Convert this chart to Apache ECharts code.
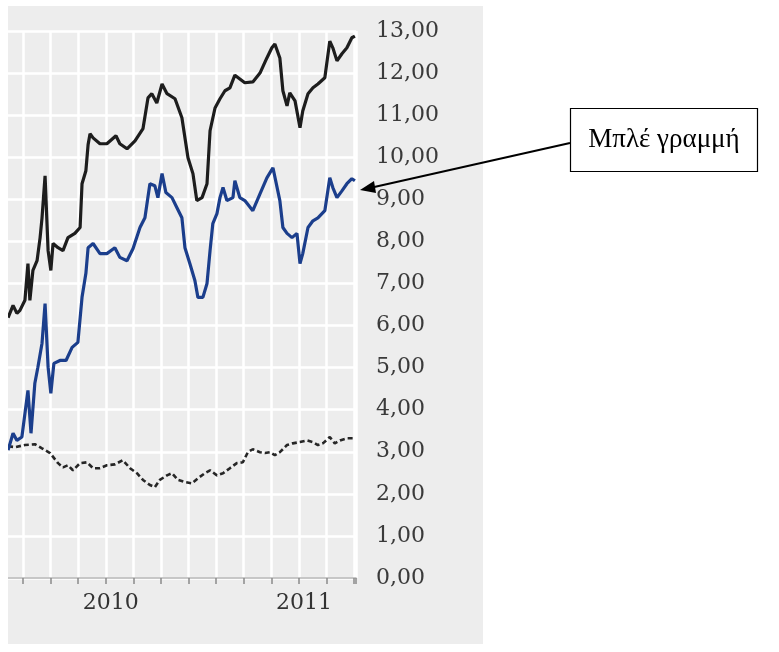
<!DOCTYPE html>
<html>
<head>
<meta charset="utf-8">
<script src="https://cdn.jsdelivr.net/npm/echarts@6/dist/echarts.min.js"></script>
<style>
  html, body { margin: 0; padding: 0; background: #fff; }
  #main { width: 779px; height: 652px; }
</style>
</head>
<body>
<div id="main"></div>
<script>
// x in months (1 = first gridline), y in the axis units
var blackMonths = [0.46, 0.64, 0.78, 0.89, 1.07, 1.18, 1.25, 1.36, 1.51, 1.62, 1.69, 1.80, 1.91, 2.01, 2.09, 2.27, 2.45, 2.63, 2.88, 3.07, 3.14, 3.28, 3.36, 3.43, 3.54, 3.79, 4.04, 4.37, 4.51, 4.77, 5.06, 5.35, 5.53, 5.67, 5.85, 6.04, 6.22, 6.51, 6.76, 6.98, 7.16, 7.30, 7.49, 7.67, 7.78, 7.96, 8.14, 8.32, 8.50, 8.68, 8.86, 9.04, 9.33, 9.59, 9.84, 10.02, 10.13, 10.31, 10.42, 10.57, 10.67, 10.86, 11.04, 11.14, 11.33, 11.51, 11.69, 11.94, 12.12, 12.23, 12.38, 12.56, 12.74, 12.92, 13.03];
var blackValues = [6.19, 6.48, 6.29, 6.36, 6.60, 7.47, 6.60, 7.31, 7.54, 8.09, 8.56, 9.56, 7.78, 7.31, 7.95, 7.85, 7.78, 8.09, 8.19, 8.33, 9.37, 9.68, 10.30, 10.56, 10.46, 10.32, 10.32, 10.51, 10.32, 10.20, 10.39, 10.68, 11.41, 11.51, 11.29, 11.74, 11.51, 11.39, 10.94, 9.99, 9.61, 8.97, 9.04, 9.37, 10.63, 11.17, 11.39, 11.58, 11.65, 11.95, 11.86, 11.77, 11.79, 12.00, 12.36, 12.60, 12.69, 12.36, 11.58, 11.22, 11.53, 11.34, 10.70, 11.10, 11.51, 11.65, 11.74, 11.89, 12.76, 12.60, 12.29, 12.46, 12.60, 12.84, 12.88];

var blueMonths = [0.46, 0.64, 0.78, 0.96, 1.18, 1.29, 1.43, 1.54, 1.69, 1.80, 1.91, 2.01, 2.12, 2.34, 2.56, 2.78, 2.99, 3.14, 3.28, 3.36, 3.54, 3.79, 4.04, 4.33, 4.51, 4.77, 4.99, 5.24, 5.42, 5.60, 5.78, 5.89, 6.04, 6.18, 6.40, 6.58, 6.76, 6.87, 7.05, 7.23, 7.34, 7.52, 7.67, 7.78, 7.88, 8.03, 8.14, 8.25, 8.39, 8.61, 8.68, 8.86, 9.04, 9.33, 9.59, 9.84, 10.06, 10.13, 10.31, 10.42, 10.57, 10.75, 10.93, 11.04, 11.14, 11.33, 11.51, 11.69, 11.94, 12.12, 12.23, 12.38, 12.56, 12.74, 12.92, 13.03];
var blueValues = [3.04, 3.44, 3.27, 3.35, 4.46, 3.44, 4.63, 5.01, 5.58, 6.52, 5.01, 4.39, 5.10, 5.17, 5.17, 5.48, 5.60, 6.67, 7.24, 7.85, 7.95, 7.71, 7.71, 7.85, 7.62, 7.54, 7.83, 8.33, 8.56, 9.37, 9.32, 9.04, 9.61, 9.16, 9.04, 8.80, 8.56, 7.85, 7.47, 7.07, 6.67, 6.67, 7.00, 7.78, 8.42, 8.66, 9.04, 9.28, 8.97, 9.04, 9.44, 9.04, 8.97, 8.73, 9.13, 9.51, 9.75, 9.73, 8.97, 8.33, 8.19, 8.09, 8.19, 7.47, 7.71, 8.33, 8.49, 8.56, 8.73, 9.51, 9.28, 9.04, 9.20, 9.37, 9.49, 9.44];

var dottedMonths = [0.46, 0.71, 1.07, 1.43, 1.69, 1.98, 2.27, 2.45, 2.63, 2.81, 3.07, 3.32, 3.54, 3.79, 4.04, 4.33, 4.62, 4.88, 5.13, 5.35, 5.60, 5.78, 5.96, 6.22, 6.40, 6.62, 6.87, 7.12, 7.34, 7.59, 7.78, 8.03, 8.25, 8.50, 8.75, 8.97, 9.15, 9.33, 9.59, 9.77, 9.95, 10.13, 10.31, 10.57, 10.78, 11.04, 11.29, 11.51, 11.69, 11.87, 12.12, 12.30, 12.49, 12.74, 12.96];
var dottedValues = [3.13, 3.11, 3.16, 3.18, 3.08, 2.97, 2.73, 2.63, 2.68, 2.56, 2.73, 2.75, 2.61, 2.61, 2.68, 2.70, 2.80, 2.61, 2.49, 2.33, 2.21, 2.16, 2.33, 2.44, 2.49, 2.33, 2.28, 2.25, 2.37, 2.49, 2.56, 2.44, 2.49, 2.61, 2.73, 2.75, 2.99, 3.06, 2.99, 2.97, 2.99, 2.92, 2.99, 3.16, 3.20, 3.23, 3.27, 3.23, 3.16, 3.20, 3.35, 3.20, 3.27, 3.32, 3.32];

var yearMonths = [4, 11];
var yearLabels = ['2010', '2011'];
var noteText = 'Μπλέ γραμμή';

function pairs(xs, ys) {
  var out = [];
  for (var i = 0; i < xs.length; i++) out.push([xs[i], ys[i]]);
  return out;
}

var myChart = echarts.init(document.getElementById('main'));
var serif = 'DejaVu Serif';

var option = {
  backgroundColor: '#ffffff',
  animation: false,
  grid: { left: -4.6, right: 423, top: 31, bottom: 74, outerBoundsMode: 'none', containLabel: false },
  xAxis: {
    type: 'value',
    min: 0,
    max: 13.07,
    interval: 1,
    axisLine: { show: true, lineStyle: { color: '#b5b5b5', width: 1.5 } },
    axisTick: { show: true, length: 6, lineStyle: { color: '#8a8a8a', width: 1.5 } },
    splitLine: { show: true, lineStyle: { color: '#ffffff', width: 2.5 } },
    axisLabel: {
      margin: 14,
      color: '#333',
      fontFamily: serif,
      fontSize: 22,
      padding: [0, 0, 0, 10],
      formatter: function (v) {
        var k = yearMonths.indexOf(Math.round(v));
        return k >= 0 && Math.abs(v - Math.round(v)) < 1e-6 ? yearLabels[k] : '';
      }
    }
  },
  yAxis: {
    type: 'value',
    position: 'right',
    min: 0,
    max: 13,
    interval: 1,
    axisLine: { show: true, lineStyle: { color: '#6b6b6b', width: 1.5 } },
    axisTick: { show: false },
    splitLine: { show: true, lineStyle: { color: '#ffffff', width: 2.5 } },
    axisLabel: {
      margin: 20,
      color: '#3a3a3a',
      fontFamily: serif,
      fontSize: 22,
      formatter: function (v) { return v.toFixed(2).replace('.', ','); }
    }
  },
  series: [
    {
      name: 'black',
      type: 'line',
      showSymbol: false,
      data: pairs(blackMonths, blackValues),
      lineStyle: { color: '#1d1d1d', width: 3.2 },
      z: 3
    },
    {
      name: 'blue',
      type: 'line',
      showSymbol: false,
      data: pairs(blueMonths, blueValues),
      lineStyle: { color: '#1b3e8c', width: 3.2 },
      z: 4
    },
    {
      name: 'dotted',
      type: 'line',
      showSymbol: false,
      data: pairs(dottedMonths, dottedValues),
      lineStyle: { color: '#262626', width: 2.6, type: [5, 3] },
      z: 3
    }
  ],
  graphic: [
    // γκρι φόντο του διαγράμματος
    { type: 'rect', z: -10, shape: { x: 8, y: 6, width: 475, height: 638 }, style: { fill: '#ededed' } },
    // λευκή λωρίδα αριστερά
    { type: 'rect', z: 100, shape: { x: 0, y: 0, width: 8, height: 652 }, style: { fill: '#ffffff' } },
    // πλαίσιο σημείωσης
    { type: 'rect', z: 100, shape: { x: 570.5, y: 108.5, width: 187, height: 63 }, style: { fill: '#ffffff', stroke: '#000', lineWidth: 1.2 } },
    { type: 'text', z: 101, x: 664, y: 140, style: { text: noteText, font: '27px "Liberation Serif"', fill: '#000', textAlign: 'center', textVerticalAlign: 'middle' } },
    // βέλος
    { type: 'line', z: 100, shape: { x1: 570, y1: 143, x2: 372, y2: 187.5 }, style: { stroke: '#000', lineWidth: 2 } },
    { type: 'polygon', z: 100, shape: { points: [[360, 190], [374, 181], [376, 193]] }, style: { fill: '#000' } }
  ]
};

myChart.setOption(option);
</script>
</body>
</html>
